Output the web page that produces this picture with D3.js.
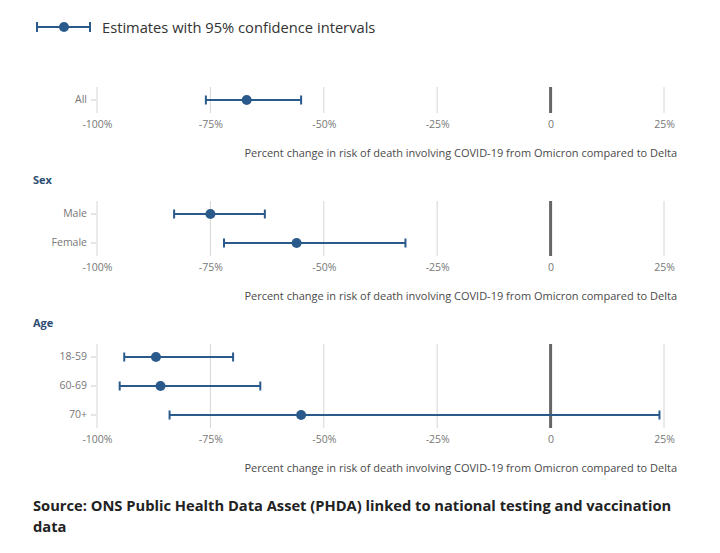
<!DOCTYPE html>
<html><head><meta charset="utf-8">
<script src="https://cdn.jsdelivr.net/npm/d3@7"></script>
<style>
body{margin:0;background:#fff;}
svg{display:block;font-family:"Open Sans",sans-serif;}
</style></head>
<body><svg id="c" width="720" height="553"></svg>
<script>
const xTicks = [-100, -75, -50, -25, 0, 25];
const xTickLabels = ["-100%", "-75%", "-50%", "-25%", "0", "25%"];
const panelTitles = ["", "Sex", "Age"];
const panelCategories = [["All"], ["Male", "Female"], ["18-59", "60-69", "70+"]];
const estimates = [[-67], [-75, -56], [-87, -86, -55]];
const lowerCI = [[-76], [-83, -72], [-94, -95, -84]];
const upperCI = [[-55], [-63, -32], [-70, -64, 24]];
const axisTitle = "Percent change in risk of death involving COVID-19 from Omicron compared to Delta";
const legendLabel = "Estimates with 95% confidence intervals";
const sourceLines = ["Source: ONS Public Health Data Asset (PHDA) linked to national testing and vaccination", "data"];

const blue = "#2a5a8c";
const svg = d3.select("#c");
const x = d3.scaleLinear().domain([-100, 25]).range([97, 664]);

// legend
const lg = svg.append("g");
lg.append("line").attr("x1", 37).attr("x2", 90).attr("y1", 27).attr("y2", 27).attr("stroke", blue).attr("stroke-width", 2);
[37, 90].forEach(cx => lg.append("line").attr("x1", cx).attr("x2", cx).attr("y1", 22).attr("y2", 32).attr("stroke", blue).attr("stroke-width", 2));
lg.append("circle").attr("cx", 64).attr("cy", 27).attr("r", 5).attr("fill", blue);
lg.append("text").attr("x", 102).attr("y", 32.5).attr("font-size", 14.7).attr("fill", "#333").text(legendLabel);

const panelTops = [85.5, 199.5, 342.5];
const step = 29;

panelCategories.forEach((cats, p) => {
  const top = panelTops[p];
  const bottom = top + cats.length * step;
  const y = d3.scaleBand().domain(cats).range([top, bottom]).padding(0);
  const g = svg.append("g");
  if (panelTitles[p]) {
    g.append("text").attr("x", 33).attr("y", top - 16).attr("font-size", 11).attr("font-weight", "bold")
      .attr("fill", "#2d4d72").text(panelTitles[p]);
  }
  // gridlines
  xTicks.forEach((t) => {
    g.append("line").attr("x1", x(t)).attr("x2", x(t)).attr("y1", top + 1.5).attr("y2", bottom - 1.5)
      .attr("stroke", t === 0 ? "#666" : "#d6d6d6").attr("stroke-width", t === 0 ? 3 : 1);
  });
  // x tick labels
  const xa = d3.axisBottom(x).tickValues(xTicks).tickSize(0).tickFormat((d, i) => xTickLabels[i]);
  const xg = g.append("g").attr("transform", `translate(0,${bottom + 3})`).call(xa);
  xg.select(".domain").remove();
  xg.selectAll("text").attr("font-size", 10.5).attr("fill", "#777").attr("font-family", "Open Sans");
  // y axis
  const ya = d3.axisLeft(y).tickSize(5).tickPadding(4);
  const yg = g.append("g").attr("transform", `translate(96,0)`).call(ya);
  yg.select(".domain").remove();
  yg.selectAll("line").attr("stroke", "#ccc");
  yg.selectAll("text").attr("font-size", 10.5).attr("fill", "#777").attr("font-family", "Open Sans");
  // axis title
  g.append("text").attr("x", 677).attr("y", bottom + 42).attr("text-anchor", "end").attr("font-size", 11)
    .attr("fill", "#4a4a4a").text(axisTitle);
  // marks
  cats.forEach((c, i) => {
    const cy = y(c) + y.bandwidth() / 2;
    g.append("line").attr("x1", x(lowerCI[p][i])).attr("x2", x(upperCI[p][i])).attr("y1", cy).attr("y2", cy)
      .attr("stroke", blue).attr("stroke-width", 2);
    [lowerCI[p][i], upperCI[p][i]].forEach(v => g.append("line").attr("x1", x(v)).attr("x2", x(v))
      .attr("y1", cy - 4.5).attr("y2", cy + 4.5).attr("stroke", blue).attr("stroke-width", 2));
    g.append("circle").attr("cx", x(estimates[p][i])).attr("cy", cy).attr("r", 5).attr("fill", blue);
  });
});

// source
sourceLines.forEach((s, i) => {
  svg.append("text").attr("x", 33).attr("y", 511 + i * 21).attr("font-size", 14.7).attr("font-weight", "bold")
    .attr("fill", "#222").text(s);
});
</script></body></html>
